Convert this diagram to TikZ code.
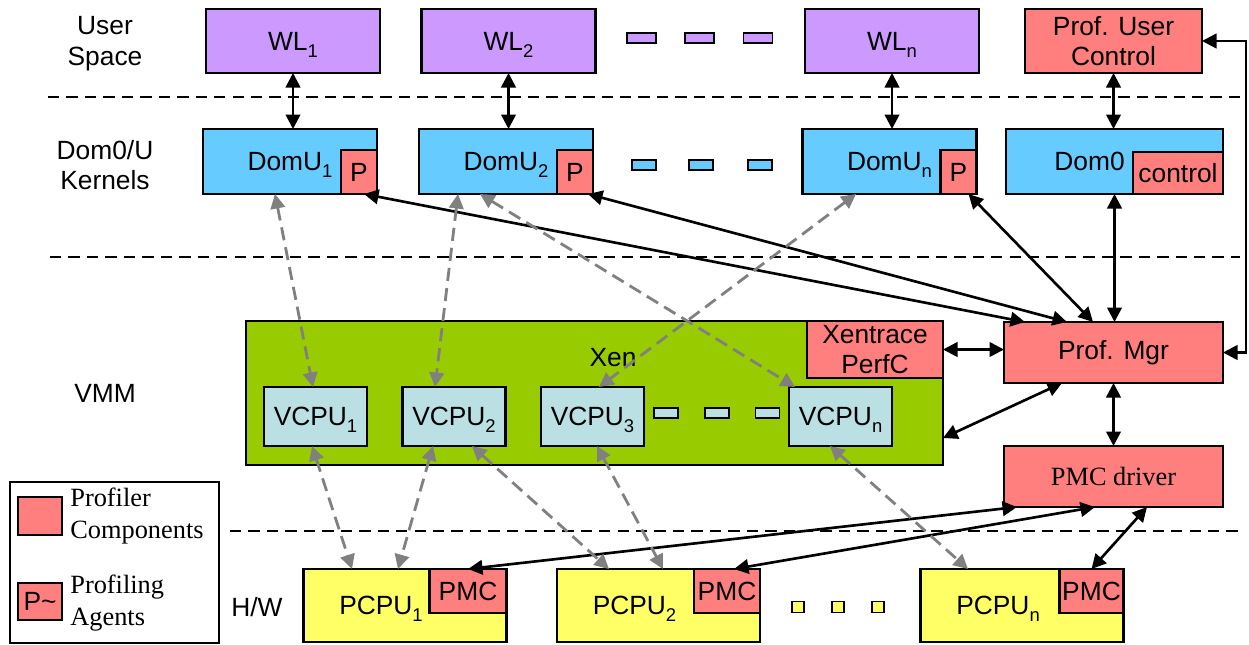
\documentclass[tikz,border=0pt]{standalone}
\usepackage{fontspec}
\setmainfont{Liberation Sans}
\newfontfamily\timesfont{Liberation Serif}
\usetikzlibrary{arrows.meta}
\definecolor{wlpurple}{HTML}{CC99FF}
\definecolor{domblue}{HTML}{66CCFF}
\definecolor{profred}{HTML}{FF7F7F}
\definecolor{xengreen}{HTML}{99CC00}
\definecolor{vcpublue}{HTML}{BAE0E4}
\definecolor{pcpuyellow}{HTML}{FFFF66}
\newcommand{\idx}[1]{\raisebox{-0.28em}[0pt][0pt]{\fontsize{10.5}{10.5}\selectfont#1}}
\tikzset{every node/.style={font=\fontsize{15}{17.5}\selectfont},
         box/.style={draw,line width=1.4pt,inner sep=0pt,outer sep=0pt},
         wl/.style={box,fill=wlpurple,minimum width=34.8mm,minimum height=12.8mm},
         dom/.style={box,fill=domblue,minimum width=34.8mm,minimum height=13mm},
         agent/.style={box,fill=profred,anchor=south east,minimum width=7.2mm,minimum height=8.8mm},
         prof/.style={box,fill=profred},
         vcpu/.style={box,fill=vcpublue,minimum width=20.6mm,minimum height=11.8mm},
         pcpu/.style={box,fill=pcpuyellow,minimum width=40.6mm,minimum height=14.6mm},
         pmc/.style={box,fill=profred,anchor=north east,minimum height=8.8mm},
         gapmark/.style={draw,line width=1.1pt,inner sep=0pt,minimum height=2mm},
         layerline/.style={line width=1.3pt,dash pattern=on 6.5pt off 4pt},
         link/.style={<->,line width=1.5pt},
         vlink/.style={<->,line width=1.6pt,gray,dash pattern=on 7.5pt off 4pt},
         >={Triangle[length=2.9mm,width=2.9mm]}}

\begin{document}
\begin{tikzpicture}[x=0.2mm,y=-0.2mm]
        \useasboundingbox(0,0)rectangle(1249,644);
        \node[align=center](lyuser)at(105,44){User\\Space};
        \node[align=center](lydom)at(105,165){Dom0/U\\Kernels};
        \node(lyvmm)at(105,393){VMM};
        \node(lyhw)at(257,607){H/W};

        \draw[layerline](48,97)--(1240,97);
        \draw[layerline](50,257)--(1240,257);
        \draw[layerline](230,531)--(1240,531);

        \node[wl](wl1)at(293,41){WL\idx{1}};
        \node[wl](wl2)at(508.5,41){WL\idx{2}};
        \node[wl](wln)at(892,41){WL\idx{n}};
        \node[prof,minimum width=35.4mm,minimum height=12.8mm,align=center](puc)at(1113.5,41){Prof. User\\Control};
        \foreach \x[count=\i] in {641.5,699.5,758}\node[gapmark,fill=wlpurple,minimum width=5.8mm](wg\i)at(\x,38){};

        \node[dom](domu1)at(290,161.5){DomU\idx{1}};
        \node[agent](p1)at(domu1.south east){P};
        \node[dom](domu2)at(506,161.5){DomU\idx{2}};
        \node[agent](p2)at(domu2.south east){P};
        \node[dom](domun)at(889.5,161.5){DomU\idx{n}};
        \node[agent](pn)at(domun.south east){P};
        \node[dom,minimum width=43.4mm,label={[xshift=-5mm]center:Dom0}](dom0)at(1114.5,161.5){};
        \node[agent,minimum width=18mm,minimum height=8.4mm](ctl)at(dom0.south east){control};
        \foreach \x[count=\i] in {644,701,760}\node[gapmark,fill=domblue,minimum width=4.8mm](dg\i)at(\x,165){};

        \node[box,fill=xengreen,minimum width=139.4mm,minimum height=28.8mm](xen)at(594.5,393){};
        \node[prof,anchor=north east,minimum width=27.2mm,minimum height=11.4mm,align=center](xt)at(xen.north east){Xentrace\\PerfC};
        \node(xenlbl)at(613,358){Xen};
        \node[vcpu](vcpu1)at(315.5,416.5){VCPU\idx{1}};
        \node[vcpu](vcpu2)at(454,416.5){VCPU\idx{2}};
        \node[vcpu](vcpu3)at(592.5,416.5){VCPU\idx{3}};
        \node[vcpu](vcpun)at(840.5,416.5){VCPU\idx{n}};
        \foreach \x[count=\i] in {666,717,767.5}\node[gapmark,fill=vcpublue,minimum width=4.8mm](vg\i)at(\x,413){};

        \node[prof,minimum width=43.8mm,minimum height=12.2mm](mgr)at(1113.5,352.5){Prof. Mgr};
        \node[prof,minimum width=43.8mm,minimum height=12.2mm,font=\timesfont\fontsize{15}{17.5}\selectfont](drv)at(1113.5,476.5){PMC driver};

        \node[pcpu,label={[xshift=-4.8mm]center:PCPU\idx{1}}](pcpu1)at(405,605.5){};
        \node[pmc,minimum width=15.4mm](pmc1)at(pcpu1.north east){PMC};
        \node[pcpu,label={[xshift=-4.8mm]center:PCPU\idx{2}}](pcpu2)at(658.5,605.5){};
        \node[pmc,minimum width=13.2mm](pmc2)at(pcpu2.north east){PMC};
        \node[pcpu,label={[xshift=-4.8mm]center:PCPU\idx{n}}](pcpun)at(1022,605.5){};
        \node[pmc,minimum width=12.8mm](pmcn)at(pcpun.north east){PMC};
        \foreach \x[count=\i] in {798,838,878}\node[gapmark,fill=pcpuyellow,minimum width=2.4mm,minimum height=2.2mm](pg\i)at(\x,607){};

        \node[box,minimum width=41.8mm,minimum height=32.2mm](lgd)at(114.5,562.5){};
        \node[prof,minimum width=8.8mm,minimum height=7.6mm](lgcomp)at(40,516){};
        \node[prof,minimum width=8.8mm,minimum height=7.4mm](lgagent)at(40,601.5){P\textasciitilde};
        \node[anchor=west,align=left,inner sep=0pt,font=\timesfont\fontsize{15}{18.5}\selectfont](lgcomptxt)at(70,516){Profiler\\Components};
        \node[anchor=west,align=left,inner sep=0pt,font=\timesfont\fontsize{15}{18.5}\selectfont](lgagenttxt)at(70,603){Profiling\\Agents};

        \draw[link](wl1.south)--(wl1.south|-domu1.north);
        \draw[link](wl2.south)--(wl2.south|-domu2.north);
        \draw[link](wln.south)--(wln.south|-domun.north);
        \draw[link](puc.south)--(puc.south|-dom0.north);
        \draw[link](dom0.south)--(dom0.south|-mgr.north);
        \draw[link](mgr.south)--(drv.north);
        \draw[link](xt.east)--(xt.east-|mgr.west);
        \draw[link](mgr.east)--++(23,0)|-(puc.east);
        \draw[link]([yshift=-9mm]xen.east)--([xshift=-10.3mm]mgr.south);
        \draw[link]([xshift=1mm]p1.south)--([xshift=-17.7mm]mgr.north);
        \draw[link]([xshift=2.6mm]p2.south)--([xshift=-9.3mm]mgr.north);
        \draw[link]([xshift=2mm]pn.south)--([xshift=-4.1mm]mgr.north);
        \draw[link](pmc1.north)--([xshift=-19.3mm]drv.south);
        \draw[link]([xshift=1.4mm]pmc2.north)--([xshift=-3.7mm]drv.south);
        \draw[link](pmcn.north)--([xshift=6.7mm]drv.south);

        \draw[vlink]([xshift=-3mm]domu1.south)--([xshift=-0.5mm]vcpu1.north);
        \draw[vlink]([xshift=-9.6mm]domu2.south)--([xshift=-3.8mm]vcpu2.north);
        \draw[vlink]([xshift=-5.2mm]domu2.south)--([xshift=-9.1mm]vcpun.north);
        \draw[vlink]([xshift=-6.7mm]domun.south)--([xshift=1.3mm]vcpu3.north);
        \draw[vlink]([xshift=-0.7mm]vcpu1.south)--([xshift=-10.6mm]pcpu1.north);
        \draw[vlink]([xshift=-4.2mm]vcpu2.south)--([xshift=-1.4mm]pcpu1.north);
        \draw[vlink]([xshift=3.6mm]vcpu2.south)--([xshift=-9.9mm]pcpu2.north);
        \draw[vlink]([xshift=0.9mm]vcpu3.south)--([xshift=0.9mm]pcpu2.north);
        \draw[vlink]([xshift=-2.1mm]vcpun.south)--([xshift=-10.8mm]pcpun.north);
    \end{tikzpicture}
\end{document}
